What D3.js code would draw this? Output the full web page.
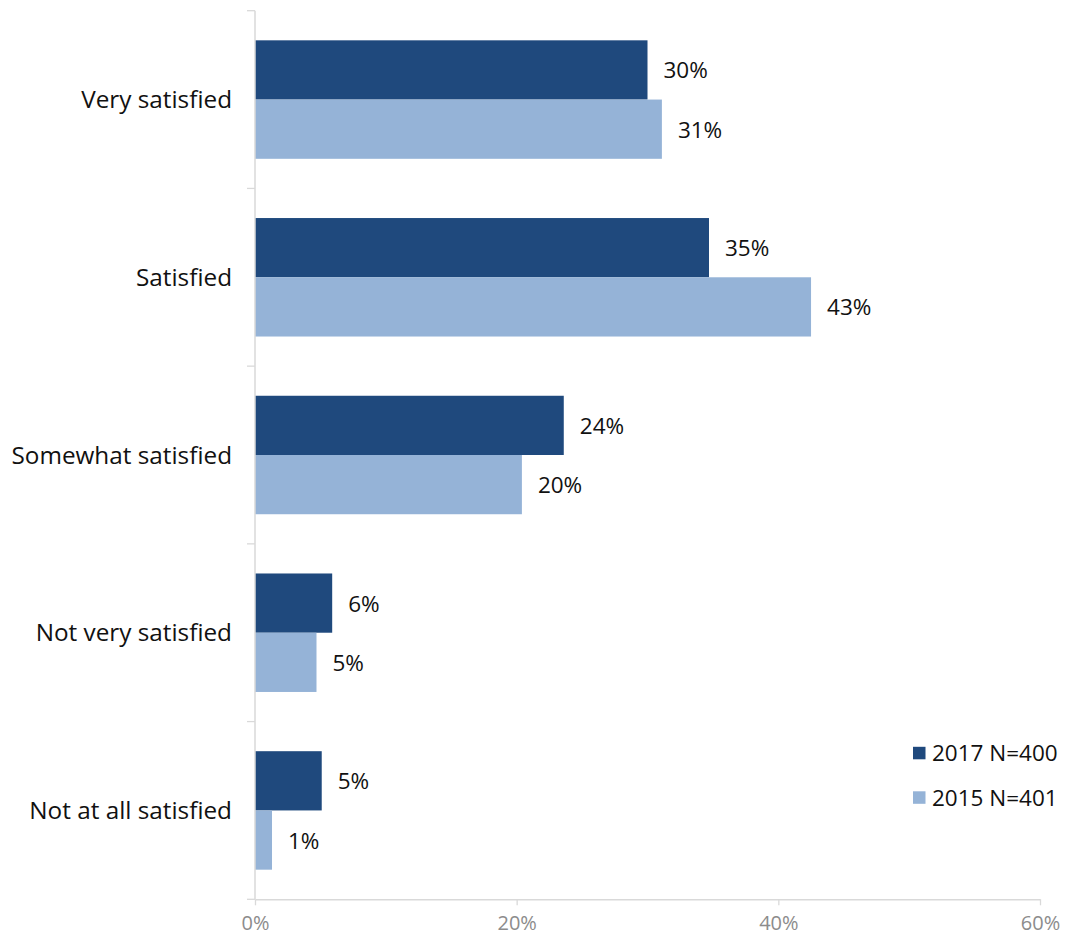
<!DOCTYPE html>
<html>
<head>
<meta charset="utf-8">
<script src="https://cdn.jsdelivr.net/npm/d3@7"></script>
<style>
  html, body { margin: 0; padding: 0; background: #fff; }
  svg { display: block; }
  text { font-family: "Open Sans", "DejaVu Sans", sans-serif; }
</style>
</head>
<body>
<svg id="chart" width="1068" height="937"></svg>
<script>
const categories = ["Very satisfied", "Satisfied", "Somewhat satisfied", "Not very satisfied", "Not at all satisfied"];
const seriesNames = ["2017 N=400", "2015 N=401"];
const values2017 = [30.0, 34.7, 23.6, 5.9, 5.1];
const values2015 = [31.1, 42.5, 20.4, 4.7, 1.3];
const xTicks = [0, 20, 40, 60];
const colors = ["#1F497D", "#95B3D7"];

const svg = d3.select("#chart");
const x = d3.scaleLinear().domain([0, 60]).range([255, 1040]);
const y = d3.scaleBand().domain(categories).range([10.7, 899.3]).paddingInner(1/3).paddingOuter(1/6);
const sub = d3.scaleBand().domain(seriesNames).range([0, y.bandwidth()]);

const rows = categories.map((c, i) => ({cat: c, vals: [values2017[i], values2015[i]]}));

// bars
const g = svg.append("g");
rows.forEach(r => {
  r.vals.forEach((v, j) => {
    const yy = y(r.cat) + sub(seriesNames[j]);
    g.append("rect")
      .attr("x", x(0))
      .attr("y", yy)
      .attr("width", x(v) - x(0))
      .attr("height", sub.bandwidth())
      .attr("fill", colors[j]);
    g.append("text")
      .attr("x", x(v) + 16)
      .attr("y", yy + sub.bandwidth() / 2)
      .attr("dy", "0.38em")
      .attr("font-size", 22.5)
      .attr("fill", "#111")
      .text(Math.round(v) + "%");
  });
});

// y axis line and boundary ticks
const axisColor = "#d9d9d9";
const [r0, r1] = y.range();
svg.append("line").attr("x1", x(0)).attr("x2", x(0)).attr("y1", r0).attr("y2", r1)
  .attr("stroke", axisColor).attr("stroke-width", 1.5);
const bounds = categories.map(c => y(c) - (y.step() - y.bandwidth()) / 2).concat([r1]);
svg.selectAll(".ytick").data(bounds).enter().append("line")
  .attr("x1", x(0) - 8).attr("x2", x(0)).attr("y1", d => d).attr("y2", d => d)
  .attr("stroke", axisColor).attr("stroke-width", 1.3);

// category labels
svg.selectAll(".cat").data(categories).enter().append("text")
  .attr("x", x(0) - 23)
  .attr("y", d => y(d) + y.bandwidth() / 2)
  .attr("dy", "0.35em")
  .attr("text-anchor", "end")
  .attr("font-size", 24.3)
  .attr("fill", "#111")
  .text(d => d);

// x axis
const xAxis = d3.axisBottom(x).tickValues(xTicks).tickFormat(d => d + "%").tickSize(6).tickSizeOuter(0);
const xa = svg.append("g").attr("transform", `translate(0,${r1})`).call(xAxis);
xa.select(".domain").attr("stroke", axisColor).attr("stroke-width", 1.5);
xa.selectAll(".tick line").attr("stroke", axisColor).attr("stroke-width", 1.3);
xa.selectAll(".tick text")
  .attr("font-family", "'Open Sans', sans-serif")
  .attr("font-size", 20)
  .attr("fill", "#8c8c8c")
  .attr("y", 31)
  .attr("dy", 0);

// legend
const lg = svg.append("g").attr("transform", "translate(913,753)");
seriesNames.forEach((s, j) => {
  const row = lg.append("g").attr("transform", `translate(0,${j * 44.5})`);
  row.append("rect").attr("x", 0).attr("y", -6.2).attr("width", 12.5).attr("height", 12.5).attr("fill", colors[j]);
  row.append("text").attr("x", 19).attr("y", 0).attr("dy", "0.37em")
    .attr("font-size", 22.5).attr("fill", "#111").text(s);
});
</script>
</body>
</html>
